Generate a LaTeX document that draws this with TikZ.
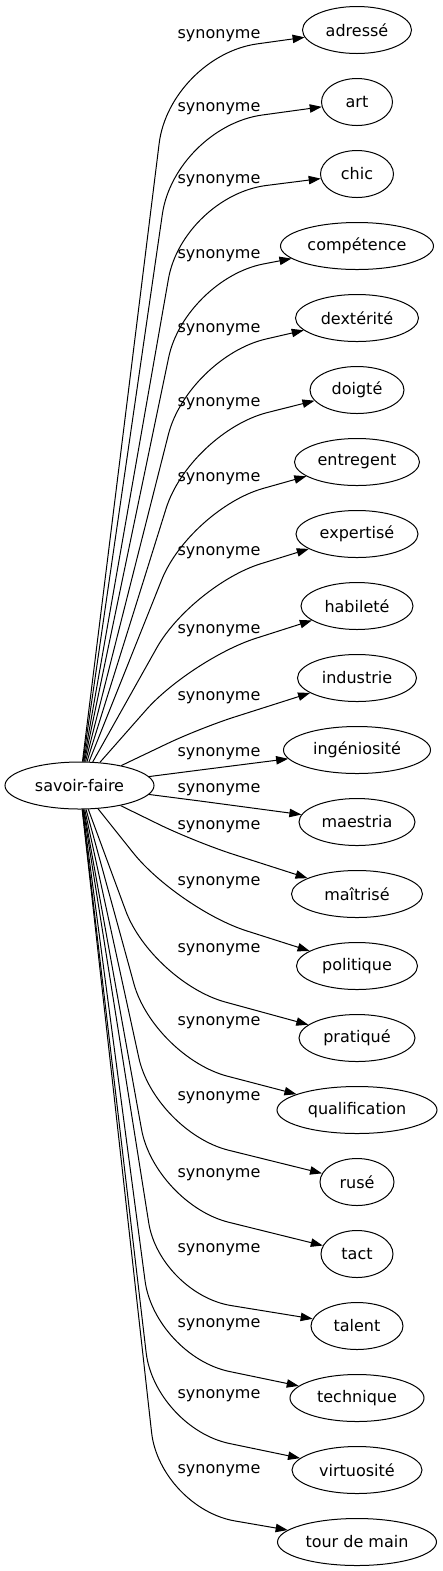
\documentclass[tikz,border=0pt]{standalone}
\usepackage{fontspec}
\setmainfont{DejaVu Sans}
\usetikzlibrary{shapes,arrows.meta}

\begin{document}
\begin{tikzpicture}[x=0.5pt,y=-0.5pt]
\tikzstyle{every node}=[font=\fontsize{8}{9.6}\selectfont]
\tikzstyle{mot}=[ellipse,draw,line width=0.5pt,minimum height=23.5pt,inner sep=0pt]
\tikzstyle{rel}=[inner sep=0pt]
\tikzstyle{lien}=[draw,line width=0.5pt,-{Triangle[length=6pt,width=4.2pt]}]
\useasboundingbox (0,0) rectangle (443,1571);
\node[mot,minimum width=74.5pt] (sf) at (79.5,785.5) {savoir-faire};
% mot / largeur / y etiquette / coude / rayon
\foreach \n/\w/\lab/\kx/\ky/\r [count=\i from 0] in {
 adressé/54.5/36/170/56/44,
 art/35.5/109/175/127/44,
 chic/36.5/181/183/196/42,
 compétence/76.5/256/185/279/40,
 dextérité/61.5/330/188/357/40,
 doigté/47/404/190/432/40,
 entregent/62.5/479/190/509/38,
 expertisé/61/553/192/585/36,
 habileté/56/631/191/659/34,
 industrie/59.5/698/200/728/18,
 ingéniosité/73.5/754/200/770/0,
 maestria/58/790/200/801/0,
 maîtrisé/65.5/827/195/842/20,
 politique/60.5/883/178/909/36,
 pratiqué/58/950/152/982/38,
 qualification/80/1023/154/1057/38,
 rusé/37/1098/155/1132/38,
 tact/36/1175/155/1204/38,
 talent/46/1250/160/1294/36,
 technique/67/1325/155/1356/38,
 virtuosité/65/1396/155/1428/38,
 tour de main/79.5/1471/160/1508/38}
{
 \node[mot,minimum width=\w pt] (t\i) at (357,{30+72*\i}) {\n};
 \node[rel] (l\i) at (219,\lab) {synonyme};
 \draw[lien,rounded corners=\r pt] (sf) -- (\kx,\ky) -- (t\i);
}
\end{tikzpicture}
\end{document}
